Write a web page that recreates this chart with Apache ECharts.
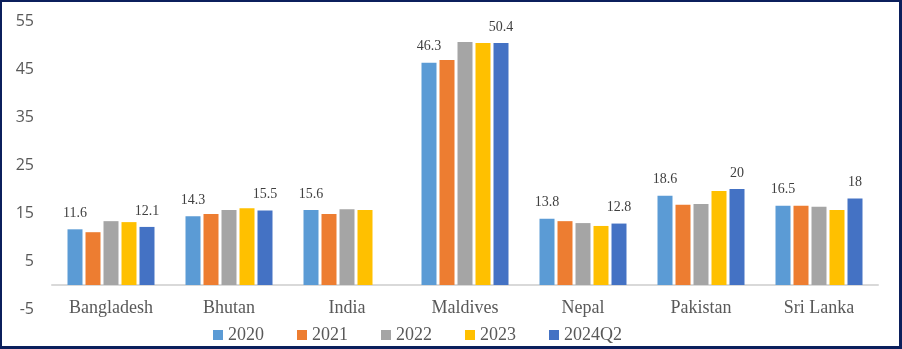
<!DOCTYPE html>
<html><head><meta charset="utf-8">
<script src="https://cdn.jsdelivr.net/npm/echarts@6/dist/echarts.min.js"></script>
<style>
html,body{margin:0;padding:0;background:#fff;}
#wrap{position:relative;width:902px;height:349px;}
#chart{position:absolute;left:0;top:0;width:902px;height:349px;}
#frame{position:absolute;left:0;top:0;width:902px;height:349px;box-sizing:border-box;border-style:solid;border-color:#0B1F5C;border-width:2px 3px 3px 2px;pointer-events:none;}
</style>
</head><body>
<div id="wrap"><div id="chart"></div><div id="frame"></div></div>
<script>
const categories = ['Bangladesh','Bhutan','India','Maldives','Nepal','Pakistan','Sri Lanka'];
const seriesNames = ['2020','2021','2022','2023','2024Q2'];
const v2020 = [11.6, 14.3, 15.6, 46.3, 13.8, 18.6, 16.5];
const v2021 = [11.0, 14.8, 14.8, 46.9, 13.3, 16.7, 16.5];
const v2022 = [13.3, 15.6, 15.8, 50.6, 12.9, 16.9, 16.3];
const v2023 = [13.1, 16.0, 15.6, 50.4, 12.3, 19.6, 15.6];
const v2024Q2 = [12.1, 15.5, null, 50.4, 12.8, 20, 18];
const labeledSeries = ['2020','2024Q2'];
const yTicks = [-5, 5, 15, 25, 35, 45, 55];

const colors = ['#5B9BD5','#ED7D31','#A5A5A5','#FFC000','#4472C4'];
const allValues = [v2020, v2021, v2022, v2023, v2024Q2];

const chart = echarts.init(document.getElementById('chart'));
chart.setOption({
  animation: false,
  color: colors,
  grid: {left: 52, right: 24, top: 21, bottom: 40, containLabel: false},
  legend: {
    data: seriesNames,
    left: 213, top: 326,
    padding: 0,
    itemWidth: 10, itemHeight: 10, itemGap: 33,
    icon: 'rect',
    textStyle: {fontFamily: '"Liberation Serif","Times New Roman",serif', fontSize: 18, color: '#595959'}
  },
  xAxis: {
    type: 'category',
    data: categories,
    axisLine: {onZero: true, lineStyle: {color: '#D9D9D9', width: 2}},
    axisTick: {show: false},
    axisLabel: {fontFamily: '"Liberation Serif","Times New Roman",serif', fontSize: 18, color: '#595959', margin: -10}
  },
  yAxis: {
    type: 'value',
    min: yTicks[0], max: yTicks[yTicks.length-1], interval: 10,
    splitLine: {show: false},
    axisLine: {show: false},
    axisTick: {show: false},
    axisLabel: {fontFamily: '"Open Sans","Liberation Sans",sans-serif', fontSize: 16, color: '#595959', margin: 18}
  },
  series: seriesNames.map((name, i) => ({
    name: name,
    type: 'bar',
    data: allValues[i],
    barWidth: 15,
    barGap: '20%',
    label: {
      show: labeledSeries.includes(name),
      position: 'top',
      distance: 9,
      fontFamily: '"Liberation Serif","Times New Roman",serif',
      fontSize: 14,
      color: '#404040'
    }
  }))
});
</script>
</body></html>
